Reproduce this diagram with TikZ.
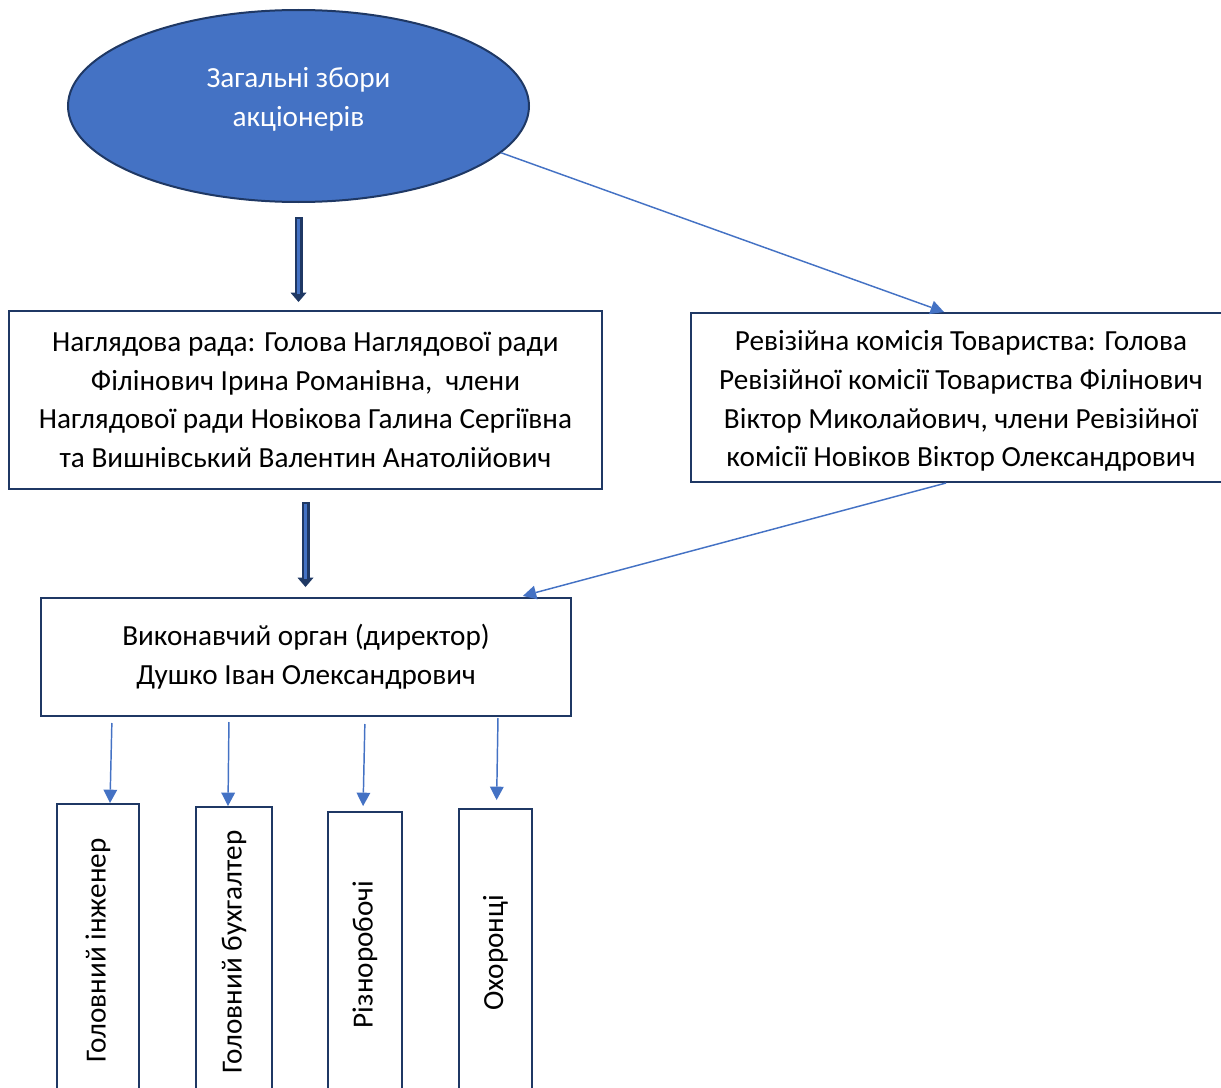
\documentclass[tikz,border=0pt]{standalone}
\usepackage{fontspec}
\setmainfont{Carlito}
\usepackage{graphicx}
\usetikzlibrary{shapes,arrows.meta}
\definecolor{deepblue}{HTML}{1F3864}
\definecolor{midblue}{HTML}{4472C4}

\begin{document}
\begin{tikzpicture}[x=0.75pt,y=-0.75pt]
		\tikzstyle {box} = [draw=deepblue, line width=1.5pt, align=center, anchor=north west, font=\fontsize{21.9}{29}\selectfont]
		\tikzstyle {staff} = [box, inner sep=0pt]
		\tikzstyle {bold arrow} = [draw=deepblue, line width=6pt, -{Triangle[width=12pt,length=7pt,line width=0pt]}]
		\tikzstyle {bold core} = [draw=midblue, line width=2.25pt]
		\tikzstyle {thin arrow} = [draw=midblue, line width=1.1pt, -{Triangle[width=10.5pt,length=10pt,line width=0pt]}]

		\clip (0,0) rectangle (1221,1088);

		\node[ellipse, draw=deepblue, line width=1.5pt, fill=midblue, text=white, minimum width=345.75pt, minimum height=144pt, font=\fontsize{21.9}{29}\selectfont] (meeting) at (298.5,106) {\raisebox{0pt}[0pt][0pt]{\begin{tabular}{@{}c@{}}Загальні збори\\акціонерів\end{tabular}}};

		\node[box, minimum width=444.75pt, minimum height=133.5pt] (board) at (8,310) {Наглядова рада: Голова Наглядової ради\\Філінович Ірина Романівна,~ члени\\Наглядової ради Новікова Галина Сергіївна\\та Вишнівський Валентин Анатолійович};
		\node[box, minimum width=405pt, minimum height=126.75pt] (audit) at (690,312) {\raisebox{-8pt}[0pt][0pt]{\begin{tabular}{@{}c@{}}Ревізійна комісія Товариства: Голова\\Ревізійної комісії Товариства Філінович\\Віктор Миколайович, члени Ревізійної\\комісії Новіков Віктор Олександрович\end{tabular}}};
		\node[box, minimum width=397.5pt, minimum height=88.5pt] (director) at (40,597) {Виконавчий орган (директор)\\Душко Іван Олександрович};

		\node[staff, minimum width=61.5pt, minimum height=219.75pt] (engineer) at (56,803) {\rotatebox{90}{Головний інженер}};
		\node[staff, minimum width=57pt, minimum height=217.5pt] (accountant) at (195,806) {\rotatebox{90}{Головний бухгалтер}};
		\node[staff, minimum width=55.5pt, minimum height=213.75pt] (workers) at (327,811) {\rotatebox{90}{Різноробочі}};
		\node[staff, minimum width=54.75pt, minimum height=216pt] (guards) at (458,808) {\rotatebox{90}{Охоронці}};

		% bold arrows down the main line
		\draw[bold arrow, shorten <=10.5pt, shorten >=6pt] (meeting.south) -- (meeting.south |- board.north);
		\draw[bold core, shorten <=12pt, shorten >=12pt] (meeting.south) -- (meeting.south |- board.north);
		\draw[bold arrow, shorten <=9pt, shorten >=7.5pt] (board.south) -- (board.south |- director.north);
		\draw[bold core, shorten <=10.5pt, shorten >=13.5pt] (board.south) -- (board.south |- director.north);

		\draw[thin arrow] (meeting.-13) -- ([xshift=-12.75pt]audit.north);
		\draw[thin arrow, shorten >=3pt] ([xshift=-11.25pt]audit.south) -- ([xshift=159.75pt]director.north);

		% staff
		\draw[thin arrow, shorten <=4.5pt] ([xshift=-145.5pt]director.south) -- ([xshift=9pt]engineer.north);
		\draw[thin arrow, shorten <=3.75pt] ([xshift=-57.75pt]director.south) -- ([xshift=-4.5pt]accountant.north);
		\draw[thin arrow, shorten <=5.25pt, shorten >=3.75pt] ([xshift=44.25pt]director.south) -- ([xshift=-1.5pt]workers.north);
		\draw[thin arrow, shorten <=0.75pt, shorten >=6pt] ([xshift=144pt]director.south) -- ([xshift=0.75pt]guards.north);
\end{tikzpicture}
\end{document}
